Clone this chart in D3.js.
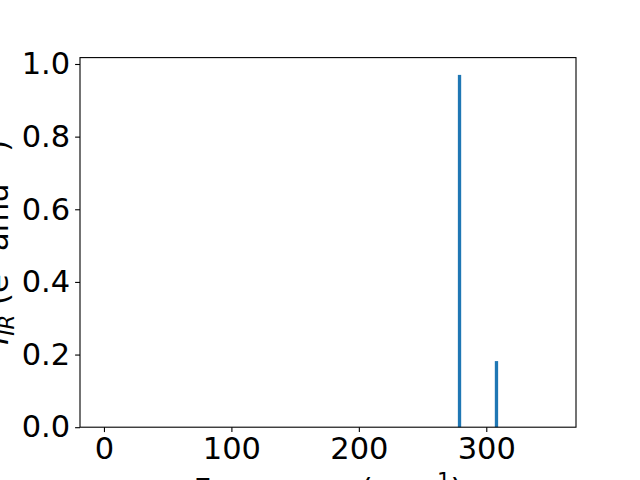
<!DOCTYPE html>
<html>
<head>
<meta charset="utf-8">
<script src="https://cdn.jsdelivr.net/npm/d3@7"></script>
<style>
    body { margin: 0; background: #fff; }
    text { font-family: "DejaVu Sans", sans-serif; }
</style>
</head>
<body>
<svg id="chart"></svg>
<script>
// IR active modes
const frequencies = [279, 308];
const intensities = [0.970, 0.182];

const xTicks = [0, 100, 200, 300];
const yTicks = [0.0, 0.2, 0.4, 0.6, 0.8, 1.0];

const width = 640;
const height = 480;
const margin = {left: 80, right: 64, top: 57.6, bottom: 52.8};
const fontSize = 30.5;
const labelSize = 30.5;
const barWidth = 2.6; // in cm^-1

let svg = d3.select("#chart")
    .attr("width", width)
    .attr("height", height)
    .attr("viewBox", [0, 0, width, height]);

let x = d3.scaleLinear()
    .domain([-18.8, 370.4])
    .range([margin.left, width - margin.right]);

let y = d3.scaleLinear()
    .domain([0, 1.0176])
    .range([height - margin.bottom, margin.top]);

// bars
svg.append("g")
    .selectAll("rect")
    .data(frequencies)
    .join("rect")
    .attr("x", (d) => x(d - barWidth / 2))
    .attr("width", (d) => x(d + barWidth / 2) - x(d - barWidth / 2))
    .attr("y", (d, i) => y(intensities[i]))
    .attr("height", (d, i) => y(0) - y(intensities[i]))
    .attr("fill", "#1f77b4");

/** Styles an axis group like matplotlib's default ticks
 *
 * @param g Axis group selection
 */
function style_axis(g) {
    g.select(".domain").remove();
    g.selectAll(".tick line")
        .attr("stroke", "#000")
        .attr("stroke-width", 1.1);
    g.selectAll(".tick text")
        .attr("fill", "#000")
        .attr("font-size", fontSize + "px")
        .attr("font-family", "DejaVu Sans");
}

svg.append("g")
    .attr("transform", `translate(0,${height - margin.bottom})`)
    .call(d3.axisBottom(x).tickValues(xTicks).tickFormat(d3.format("d")).tickSize(4.9).tickPadding(4.9))
    .call(style_axis);

svg.append("g")
    .attr("transform", `translate(${margin.left},0)`)
    .call(d3.axisLeft(y).tickValues(yTicks).tickFormat(d3.format(".1f")).tickSize(4.9).tickPadding(4.9))
    .call(style_axis);

// frame
svg.append("rect")
    .attr("x", margin.left)
    .attr("y", margin.top)
    .attr("width", width - margin.left - margin.right)
    .attr("height", height - margin.top - margin.bottom)
    .attr("fill", "none")
    .attr("stroke", "#000")
    .attr("stroke-width", 1.1);

const sup = -12;
const sub = 6;

// x label
let xLabel = svg.append("text")
    .attr("x", (margin.left + width - margin.right) / 2)
    .attr("y", 500)
    .attr("text-anchor", "middle")
    .attr("font-size", labelSize + "px");
xLabel.append("tspan").text("Frequency (cm");
xLabel.append("tspan").attr("dy", sup).attr("font-size", labelSize * 0.7 + "px").text("\u22121");
xLabel.append("tspan").attr("dy", -sup).text(")");

// y label
let yLabel = svg.append("text")
    .attr("transform", `translate(8,${(margin.top + height - margin.bottom) / 2}) rotate(-90)`)
    .attr("text-anchor", "middle")
    .attr("font-size", labelSize + "px");
yLabel.append("tspan").attr("font-style", "italic").text("I");
yLabel.append("tspan").attr("dy", sub).attr("font-size", labelSize * 0.7 + "px").attr("font-style", "italic").text("IR");
yLabel.append("tspan").attr("dy", -sub).text(" (e");
yLabel.append("tspan").attr("dy", sup).attr("font-size", labelSize * 0.7 + "px").text("2");
yLabel.append("tspan").attr("dy", -sup).text(" amu");
yLabel.append("tspan").attr("dy", sup).attr("font-size", labelSize * 0.7 + "px").text("\u22121");
yLabel.append("tspan").attr("dy", -sup).text(")");
</script>
</body>
</html>
